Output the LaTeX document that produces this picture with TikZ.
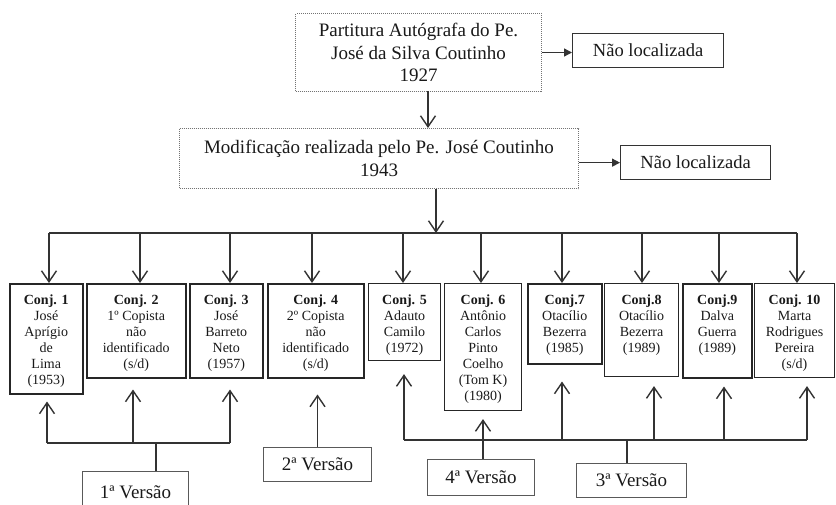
\documentclass[tikz,border=0pt]{standalone}
\usepackage{fontspec}
\setmainfont{Liberation Serif}
\usetikzlibrary{arrows.meta}
\newcommand{\cjt}[3]{\parbox[c][#2][t]{#1}{\centering\rule{0pt}{20.5pt}#3}}
\begin{document}
\begin{tikzpicture}[x=1pt,y=-1pt,
  conj/.style={draw=black!85, line width=1.5pt, inner sep=0pt, anchor=north west,
    text=black!90, font=\fontsize{14}{16}\selectfont},
  dbox/.style={draw=black!55, densely dotted, line width=1pt, inner sep=0pt, anchor=north west,
    align=center, text=black!90, font=\fontsize{19}{22.5}\selectfont},
  nbox/.style={draw=black!80, line width=1.3pt, inner sep=0pt, anchor=north west,
    minimum height=34pt, text=black!90, font=\fontsize{18.5}{22}\selectfont},
  vbox/.style={draw=black!65, line width=1pt, inner sep=0pt, anchor=north west,
    text=black!90, font=\fontsize{19}{22}\selectfont},
  ln/.style={draw=black!80, line width=1.4pt},
  barb/.style={ln, -{Straight Barb[length=11pt,width=15pt,line width=1.4pt]}},
  tri/.style={ln, -{Triangle[length=8pt,width=8pt]}}
]
\useasboundingbox (0,0) rectangle (836,504);
\clip (0,0) rectangle (836,504);

% top boxes
\node[dbox, minimum width=246pt, minimum height=78pt] (top) at (295,13)
  {Partitura Autógrafa do Pe.\\José da Silva Coutinho\\1927};
\node[nbox, minimum width=151pt] (nao1) at (572,33) {Não localizada};
\node[dbox, minimum width=399pt, minimum height=60pt] (mod) at (179,128)
  {Modificação realizada pelo Pe. José Coutinho\\1943};
\node[nbox, minimum width=150pt] (nao2) at (620,145) {Não localizada};

\draw[tri] (top.east) -- (top.east -| nao1.west);
\draw[tri] (mod.east |- nao2.west) -- (nao2.west);
\coordinate (t0) at (428,91);
\draw[barb] (t0) -- (t0 |- mod.north);

% conj boxes
\node[conj] (c1) at (9,283) {\cjt{73pt}{110pt}{\textbf{Conj. 1}\\José\\Aprígio\\de\\Lima\\(1953)}};
\node[conj] (c2) at (86,283) {\cjt{99pt}{94pt}{\textbf{Conj. 2}\\1º Copista\\não\\identificado\\(s/d)}};
\node[conj] (c3) at (189,283) {\cjt{73pt}{94pt}{\textbf{Conj. 3}\\José\\Barreto\\Neto\\(1957)}};
\node[conj] (c4) at (267,283) {\cjt{96pt}{94pt}{\textbf{Conj. 4}\\2º Copista\\não\\identificado\\(s/d)}};
\node[conj, line width=1.1pt] (c5) at (368,283) {\cjt{72pt}{77pt}{\textbf{Conj. 5}\\Adauto\\Camilo\\(1972)}};
\node[conj, line width=1.1pt] (c6) at (444,283) {\cjt{77pt}{127pt}{\textbf{Conj. 6}\\Antônio\\Carlos\\Pinto\\Coelho\\(Tom K)\\(1980)}};
\node[conj] (c7) at (527,283) {\cjt{74pt}{80pt}{\textbf{Conj.7}\\Otacílio\\Bezerra\\(1985)}};
\node[conj, line width=1.1pt] (c8) at (604,283) {\cjt{74pt}{93pt}{\textbf{Conj.8}\\Otacílio\\Bezerra\\(1989)}};
\node[conj] (c9) at (682,283) {\cjt{69pt}{94pt}{\textbf{Conj.9}\\Dalva\\Guerra\\(1989)}};
\node[conj, line width=1.1pt] (c10) at (754,283) {\cjt{80pt}{94pt}{\textbf{Conj. 10}\\Marta\\Rodrigues\\Pereira\\(s/d)}};

% top bus
\coordinate (bus) at (436,233);
\draw[barb] (mod.south -| bus) -- (bus);
\coordinate (tL) at (49,233);
\coordinate (tR) at (797,233);
\draw[ln] (tL) -- (tR);
\foreach \n/\x in {1/49,2/140,3/230,4/312,5/403,6/481,7/562,8/642,9/719,10/797}{
  \coordinate (t\n) at (\x,233);
  \draw[barb] (t\n) -- (t\n |- c\n.north);
}

% version boxes
\node[vbox, minimum width=106pt, minimum height=42pt] (v1) at (82,471) {1ª Versão};
\node[vbox, minimum width=108pt, minimum height=34pt] (v2) at (263,447) {2ª Versão};
\node[vbox, minimum width=107pt, minimum height=36pt] (v4) at (427,459) {4ª Versão};
\node[vbox, minimum width=110pt, minimum height=34pt] (v3) at (576,463) {3ª Versão};

% 1st version bus
\coordinate (L1) at (47,443);
\coordinate (L2) at (133,443);
\coordinate (L3) at (230,443);
\coordinate (L0) at (156,443);
\draw[ln] (L1) -- (L3);
\draw[ln] (L0) -- (L0 |- v1.north);
\draw[barb, shorten >=7pt] (L1) -- (L1 |- c1.south);
\draw[barb, shorten >=11pt] (L2) -- (L2 |- c2.south);
\draw[barb, shorten >=11pt] (L3) -- (L3 |- c3.south);

% 2nd version
\draw[barb, shorten >=16pt] (v2.north) -- (v2.north |- c4.south);

% 3rd version bus
\coordinate (R5) at (404,440);
\coordinate (R7) at (562,440);
\coordinate (R8) at (654,440);
\coordinate (R9) at (724,440);
\coordinate (R10) at (807,440);
\coordinate (R0) at (627,440);
\draw[ln] (R5) -- (R10);
\draw[ln] (R0) -- (R0 |- v3.north);
\draw[barb, shorten >=13pt] (R5) -- (R5 |- c5.south);
\draw[barb, shorten >=17pt] (R7) -- (R7 |- c7.south);
\draw[barb, shorten >=9pt] (R8) -- (R8 |- c8.south);
\draw[barb, shorten >=8pt] (R9) -- (R9 |- c9.south);
\draw[barb, shorten >=8pt] (R10) -- (R10 |- c10.south);

% 4th version
\coordinate (f4) at (483,459);
\draw[barb, shorten >=8pt] (f4) -- (f4 |- c6.south);
\end{tikzpicture}
\end{document}
